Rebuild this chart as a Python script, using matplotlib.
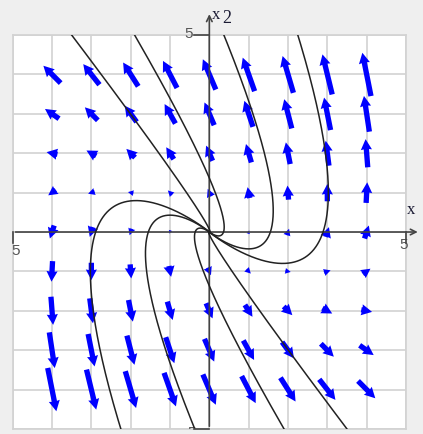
import numpy as np
import matplotlib.pyplot as plt

# linear system x' = A x  (repeated eigenvalue -> degenerate node)
A = [[1.0, -3.0],
     [3.0, 7.0]]

# field sampled on the integer grid
grid_x = [-4, -3, -2, -1, 0, 1, 2, 3, 4]
grid_y = [-4, -3, -2, -1, 0, 1, 2, 3, 4]

# starting points of the drawn solution curves (plus their mirror images)
start_x = [-3.5, -1.9, 0.37, 2.25]
start_y = [5.0, 5.0, 5.0, 5.0]

M = np.array(A)
lam = np.trace(M) / 2
N = M - lam * np.eye(2)

fig = plt.figure(figsize=(4.23, 4.34), dpi=100, facecolor='#efefef')
ax = fig.add_axes([0.030, 0.0115, 0.9298, 0.9078])
ax.set_facecolor('white')
ax.set_xlim(-5, 5)
ax.set_ylim(-5, 5)
ax.set_xticks(range(-5, 6))
ax.set_yticks(range(-5, 6))
ax.tick_params(length=0, labelbottom=False, labelleft=False)
ax.grid(True, color='#d2d2d2', lw=1.2)
for s in ax.spines.values():
    s.set_color('#d2d2d2')
    s.set_linewidth(1.2)

# direction field
X, Y = np.meshgrid(grid_x, grid_y)
U = M[0, 0] * X + M[0, 1] * Y
V = M[1, 0] * X + M[1, 1] * Y
ax.quiver(X, Y, U, V, color='#0000ff', angles='xy', scale_units='xy', scale=36.4,
          pivot='middle', width=0.0135, headwidth=2.1, headlength=2.0,
          headaxislength=1.9, minlength=0.6, zorder=3)

# solution curves: exp(At) p = exp(lam t) (p + t N p)
t = np.linspace(-7, 1, 3000)
for px, py in zip(start_x, start_y):
    for sign in (1, -1):
        p = sign * np.array([px, py])
        q = N @ p
        e = np.exp(lam * t)
        cx = e * (p[0] + t * q[0])
        cy = e * (p[1] + t * q[1])
        ax.plot(cx, cy, color='#222222', lw=1.1, zorder=4)

# coordinate axes with arrow tips
ax.annotate('', xy=(5.37, 0), xytext=(-5, 0), annotation_clip=False,
            arrowprops=dict(arrowstyle='->', color='#444444', lw=1.2))
ax.annotate('', xy=(0, 5.6), xytext=(0, -5), annotation_clip=False,
            arrowprops=dict(arrowstyle='->', color='#444444', lw=1.2))
for xv in (-5, 5):
    ax.plot([xv, xv], [0, -0.28], color='#444444', lw=1.2, clip_on=False, zorder=5)
for yv in (-5, 5):
    ax.plot([-0.38, 0], [yv, yv], color='#444444', lw=1.2, clip_on=False, zorder=5)

lab = dict(fontsize=11, color='#555555', family='Liberation Sans', ha='center', va='center')
ax.text(-0.52, 5.03, '5', clip_on=False, **lab)
ax.text(4.93, -0.33, '5', clip_on=False, **lab)
ax.text(-4.92, -0.48, '5', clip_on=False, **lab)
ax.text(-0.5, -5.1, '-5', clip_on=True, **lab)

serif = dict(family='Liberation Serif', color='#1a1a33', ha='center', va='center')
ax.text(0.18, 5.52, 'x', fontsize=12, clip_on=False, **serif)
ax.text(0.43, 5.42, '2', fontsize=13, clip_on=False, **serif)
ax.text(5.12, 0.56, 'x', fontsize=12, clip_on=False, **serif)

fig.savefig('out.png', dpi=100, facecolor=fig.get_facecolor())
